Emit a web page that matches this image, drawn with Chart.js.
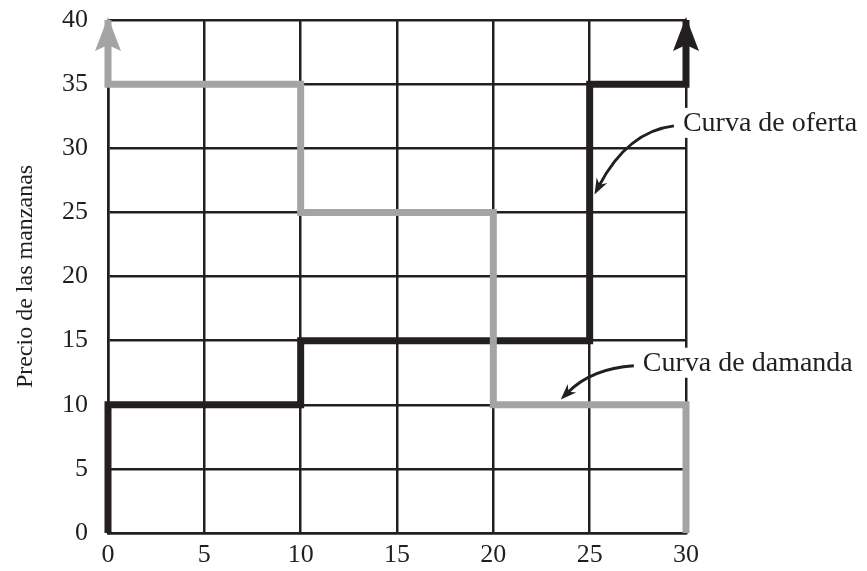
<!DOCTYPE html>
<html>
<head>
<meta charset="utf-8">
<script src="https://cdn.jsdelivr.net/npm/chart.js@4"></script>
<style>
html,body{margin:0;padding:0;background:#fff;}
#wrap{width:867px;height:571px;}
</style>
</head>
<body>
<div id="wrap"><canvas id="c" width="867" height="571"></canvas></div>
<script>
const xTicks = [0, 5, 10, 15, 20, 25, 30];
const yTicks = [0, 5, 10, 15, 20, 25, 30, 35, 40];
const supplyX = [0, 0, 10, 10, 25, 25, 30, 30];
const supplyY = [0, 10, 10, 15, 15, 35, 35, 40];
const demandX = [0, 0, 10, 10, 20, 20, 30, 30];
const demandY = [40, 35, 35, 25, 25, 10, 10, 0];
const yTitle = 'Precio de las manzanas';
const supplyLabel = 'Curva de oferta';
const demandLabel = 'Curva de damanda';
// annotation anchors (data coords): text position, arrow tip
const supplyNote = {tx: 29.84, ty: 31.9, ax: 25.25, ay: 26.4};
const demandNote = {tx: 27.76, ty: 13.2, ax: 23.5, ay: 10.4};

const BLACK = '#231f20';
const GRAY = '#a3a4a6';
const FONT = '"Liberation Serif", "Times New Roman", serif';

function pts(xs, ys){ return xs.map((x,i)=>({x:x, y:ys[i]})); }

const overlay = {
  id: 'overlay',
  afterDatasetsDraw(chart){
    const ctx = chart.ctx, xs = chart.scales.x, ys = chart.scales.y;
    function arrowHead(x, y, color){
      const px = xs.getPixelForValue(x), py = ys.getPixelForValue(y);
      ctx.save();
      ctx.fillStyle = color;
      ctx.beginPath();
      ctx.moveTo(px, py - 3);
      ctx.lineTo(px + 13, py + 31);
      ctx.lineTo(px, py + 25);
      ctx.lineTo(px - 13, py + 31);
      ctx.closePath();
      ctx.fill();
      ctx.restore();
    }
    arrowHead(demandX[0], demandY[0], GRAY);
    arrowHead(supplyX[supplyX.length-1], supplyY[supplyY.length-1], BLACK);

    function note(n, label){
      const tx = xs.getPixelForValue(n.tx), ty = ys.getPixelForValue(n.ty);
      const ax = xs.getPixelForValue(n.ax), ay = ys.getPixelForValue(n.ay);
      ctx.save();
      ctx.font = '28px ' + FONT;
      const w = ctx.measureText(label).width;
      ctx.fillStyle = '#fff';
      ctx.fillRect(tx - 3, ty - 16, w + 6, 30);
      ctx.fillStyle = BLACK;
      ctx.textBaseline = 'middle';
      ctx.textAlign = 'left';
      ctx.fillText(label, tx, ty);
      // curved arrow
      const sx = tx - 9, sy = ty + 2;
      const cx = ax + (sx - ax) * 0.42, cy = sy + (ay - sy) * 0.08;
      const ang = Math.atan2(ay - cy, ax - cx);
      const ex = ax - 10*Math.cos(ang), ey = ay - 10*Math.sin(ang);
      ctx.strokeStyle = BLACK;
      ctx.lineWidth = 3;
      ctx.beginPath();
      ctx.moveTo(sx, sy);
      ctx.quadraticCurveTo(cx, cy, ex, ey);
      ctx.stroke();
      ctx.fillStyle = BLACK;
      ctx.beginPath();
      ctx.moveTo(ax, ay);
      ctx.lineTo(ax - 16*Math.cos(ang) + 6*Math.sin(ang), ay - 16*Math.sin(ang) - 6*Math.cos(ang));
      ctx.lineTo(ax - 11*Math.cos(ang), ay - 11*Math.sin(ang));
      ctx.lineTo(ax - 16*Math.cos(ang) - 6*Math.sin(ang), ay - 16*Math.sin(ang) + 6*Math.cos(ang));
      ctx.closePath();
      ctx.fill();
      ctx.restore();
    }
    note(supplyNote, supplyLabel);
    note(demandNote, demandLabel);
  }
};

new Chart(document.getElementById('c'), {
  type: 'line',
  data: {
    datasets: [
      {label: 'Demanda', data: pts(demandX, demandY), borderColor: GRAY, borderWidth: 7,
       pointRadius: 0, fill: false, tension: 0, clip: false, borderJoinStyle: 'miter', borderCapStyle: 'butt'},
      {label: 'Oferta', data: pts(supplyX, supplyY), borderColor: BLACK, borderWidth: 7,
       pointRadius: 0, fill: false, tension: 0, clip: false, borderJoinStyle: 'miter', borderCapStyle: 'butt'}
    ]
  },
  options: {
    responsive: false,
    animation: false,
    events: [],
    layout: {padding: {left: 0, right: 181, top: 20, bottom: 0}},
    plugins: {legend: {display: false}, tooltip: {enabled: false}},
    scales: {
      x: {
        type: 'linear', min: 0, max: 30,
        afterBuildTicks(s){ s.ticks = xTicks.map(v=>({value:v})); },
        afterFit(s){ s.height = 38; s.paddingLeft = 0; s.paddingRight = 0; },
        grid: {color: BLACK, lineWidth: 2.5, drawTicks: false},
        border: {display: true, color: BLACK, width: 2.5},
        ticks: {color: BLACK, padding: 7, font: {family: FONT, size: 26}}
      },
      y: {
        type: 'linear', min: 0, max: 40,
        afterBuildTicks(s){ s.ticks = yTicks.map(v=>({value:v})); },
        afterFit(s){ s.width = 108; s.paddingTop = 0; s.paddingBottom = 0; },
        grid: {color: BLACK, lineWidth: 2.5, drawTicks: false},
        border: {display: true, color: BLACK, width: 2.5},
        ticks: {color: BLACK, padding: 20, font: {family: FONT, size: 26}},
        title: {display: true, text: yTitle, color: BLACK, padding: {top: 11, bottom: 0}, font: {family: FONT, size: 24}}
      }
    }
  },
  plugins: [overlay]
});
</script>
</body>
</html>
